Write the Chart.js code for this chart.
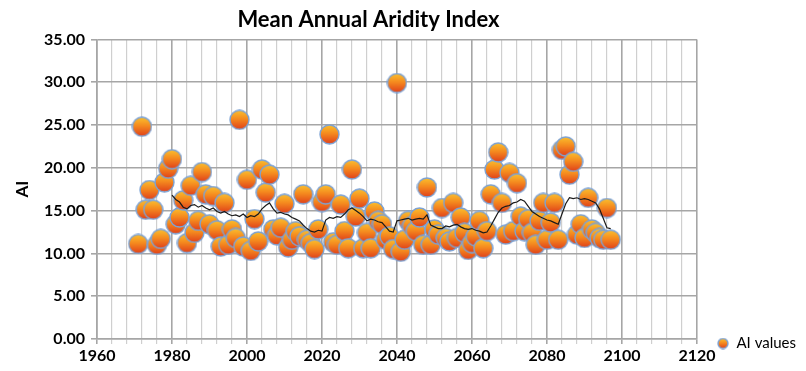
<!DOCTYPE html>
<html>
<head>
<meta charset="utf-8">
<title>Mean Annual Aridity Index</title>
<script src="https://cdn.jsdelivr.net/npm/chart.js@4.4.1/dist/chart.umd.min.js"></script>
<style>
    html, body { margin: 0; padding: 0; background: #ffffff; }
    #chartBox { width: 806px; height: 371px; }
</style>
</head>
<body>
<div id="chartBox"><canvas id="aiChart" width="806" height="371"></canvas></div>
<script>
const years = [
    1971, 1972, 1973, 1974, 1975, 1976, 1977, 1978, 1979, 1980,
    1981, 1982, 1983, 1984, 1985, 1986, 1987, 1988, 1989, 1990,
    1991, 1992, 1993, 1994, 1995, 1996, 1997, 1998, 1999, 2000,
    2001, 2002, 2003, 2004, 2005, 2006, 2007, 2008, 2009, 2010,
    2011, 2012, 2013, 2014, 2015, 2016, 2017, 2018, 2019, 2020,
    2021, 2022, 2023, 2024, 2025, 2026, 2027, 2028, 2029, 2030,
    2031, 2032, 2033, 2034, 2035, 2036, 2037, 2038, 2039, 2040,
    2041, 2042, 2043, 2044, 2045, 2046, 2047, 2048, 2049, 2050,
    2051, 2052, 2053, 2054, 2055, 2056, 2057, 2058, 2059, 2060,
    2061, 2062, 2063, 2064, 2065, 2066, 2067, 2068, 2069, 2070,
    2071, 2072, 2073, 2074, 2075, 2076, 2077, 2078, 2079, 2080,
    2081, 2082, 2083, 2084, 2085, 2086, 2087, 2088, 2089, 2090,
    2091, 2092, 2093, 2094, 2095, 2096, 2097
];

// yearly AI values (scatter)
const aiValues = [
    11.1, 24.8, 15.1, 17.4, 15.1, 11.0, 11.7, 18.3, 19.9, 21.0,
    13.4, 14.2, 16.2, 11.2, 17.9, 12.4, 13.8, 19.5, 16.9, 13.4,
    16.7, 12.7, 10.8, 15.9, 11.0, 12.8, 11.8, 25.6, 10.8, 18.6,
    10.3, 14.0, 11.4, 19.8, 17.1, 19.2, 12.8, 12.1, 13.0, 15.8,
    10.7, 11.6, 12.6, 12.0, 16.9, 11.6, 11.2, 10.5, 12.8, 16.0,
    16.9, 23.9, 11.3, 11.0, 15.7, 12.6, 10.6, 19.8, 14.3, 16.4,
    10.6, 12.4, 10.6, 14.9, 13.8, 13.4, 11.6, 12.0, 10.5, 29.9,
    10.2, 11.6, 13.8, 13.2, 12.6, 14.2, 11.0, 17.7, 11.0, 12.8,
    12.2, 15.3, 11.8, 11.4, 15.9, 11.8, 14.2, 12.4, 10.4, 11.2,
    12.0, 13.8, 10.6, 12.6, 16.9, 19.8, 21.8, 15.9, 12.2, 19.4,
    12.6, 18.2, 14.3, 12.6, 14.0, 12.4, 11.0, 13.8, 15.9, 11.6,
    13.6, 15.9, 11.6, 22.1, 22.5, 19.2, 20.7, 12.2, 13.4, 11.8,
    16.5, 12.8, 12.4, 11.8, 11.6, 15.3, 11.6
];

// moving average line (starts in 1980)
const movingAvg = [
    null, null, null, null, null, null, null, null, null, 16.8,
    16.3, 16.0, 15.4, 15.2, 15.6, 15.7, 15.4, 15.6, 15.3, 15.1,
    15.3, 14.9, 14.7, 14.9, 14.6, 14.4, 14.5, 14.3, 14.6, 14.2,
    14.4, 14.3, 14.6, 15.2, 15.6, 15.9, 15.2, 14.7, 14.8, 14.6,
    14.5, 14.2, 14.0, 13.8, 13.3, 12.9, 12.6, 12.5, 12.7, 12.6,
    13.9, 14.2, 14.1, 14.3, 14.2, 14.6, 15.1, 15.3, 15.0, 14.7,
    14.3, 13.8, 14.0, 13.9, 13.7, 13.6, 13.1, 12.6, 12.5, 13.8,
    13.9, 14.0, 14.1, 13.9, 14.0, 14.1, 14.0, 14.5, 13.3, 13.1,
    12.9, 12.9, 13.2, 13.1, 13.3, 13.4, 13.1, 12.9, 12.8, 12.9,
    12.7, 12.6, 12.4, 12.5, 13.2, 14.0, 14.8, 15.3, 15.5, 15.6,
    15.9, 16.0, 16.3, 16.1, 15.5, 14.9, 14.6, 14.3, 14.1, 13.9,
    13.8, 13.6, 13.4, 14.6, 15.8, 16.5, 16.4, 16.5, 16.3, 16.4,
    16.3, 16.1, 15.9, 15.2, 14.1, 13.0, 12.9
];

const yTicks = [0, 5, 10, 15, 20, 25, 30, 35];
const xLabelYears = [1960, 1980, 2000, 2020, 2040, 2060, 2080, 2100, 2120];

// glossy orange ball marker, like the Excel one
function makeBall(size) {
    let c = document.createElement('canvas');
    c.width = size;
    c.height = size;
    let ctx = c.getContext('2d');
    let r = size / 2 - 1;
    let g = ctx.createLinearGradient(0, 1, 0, size - 1);
    g.addColorStop(0, '#FBC02D');
    g.addColorStop(0.45, '#F58A1F');
    g.addColorStop(1, '#E0401A');
    ctx.beginPath();
    ctx.arc(size / 2, size / 2, r, 0, Math.PI * 2);
    ctx.fillStyle = g;
    ctx.fill();
    ctx.lineWidth = 1.4;
    ctx.strokeStyle = '#7CA2D4';
    ctx.stroke();
    return c;
}

const bigBall = makeBall(21);
const smallBall = makeBall(12);

// Excel centres the title a bit left of the canvas middle
const shiftTitle = {
    id: 'shiftTitle',
    afterLayout(chart) {
        if (chart.titleBlock) {
            chart.titleBlock.left = 0;
            chart.titleBlock.right = 737;
        }
    }
};

let ctx = document.getElementById('aiChart').getContext('2d');

new Chart(ctx, {
    type: 'scatter',
    data: {
        datasets: [{
            label: 'AI values',
            data: years.map((yr, i) => ({ x: yr, y: aiValues[i] })),
            pointStyle: bigBall,
            pointRadius: 10,
            pointHoverRadius: 10,
            order: 1
        }, {
            label: 'Moving average',
            data: years.map((yr, i) => ({ x: yr, y: movingAvg[i] })),
            showLine: true,
            borderColor: '#1a1a1a',
            borderWidth: 1.2,
            pointRadius: 0,
            spanGaps: false,
            order: 0
        }]
    },
    plugins: [shiftTitle],
    options: {
        responsive: false,
        animation: false,
        layout: { padding: { left: 0, right: 0, top: 0, bottom: 0 } },
        plugins: {
            title: {
                display: true,
                text: 'Mean Annual Aridity Index',
                color: '#000',
                font: { family: 'Lato', size: 22, weight: 'bold' },
                padding: { top: 7, bottom: 6 }
            },
            legend: {
                position: 'right',
                align: 'end',
                labels: {
                    color: '#000',
                    font: { family: 'Lato', size: 15 },
                    usePointStyle: true,
                    boxWidth: 12,
                    padding: 20,
                    generateLabels: function(chart) {
                        return [{
                            text: 'AI values',
                            pointStyle: smallBall,
                            fontColor: '#000',
                            hidden: false,
                            datasetIndex: 0,
                            lineWidth: 0
                        }];
                    }
                }
            },
            tooltip: { enabled: false }
        },
        scales: {
            x: {
                type: 'linear',
                min: 1960,
                max: 2120,
                afterFit: function(scale) { scale.height = 32; },
                ticks: {
                    stepSize: 4,
                    autoSkip: false,
                    maxRotation: 0,
                    color: '#000',
                    font: { family: 'Lato', size: 16, weight: 'bold' },
                    padding: 2,
                    callback: function(v) {
                        return xLabelYears.includes(v) ? String(v) : '';
                    }
                },
                grid: {
                    color: function(c) {
                        return xLabelYears.includes(c.tick && c.tick.value) ? '#A6A6A6' : '#CFCFCF';
                    },
                    lineWidth: function(c) {
                        return xLabelYears.includes(c.tick && c.tick.value) ? 1.6 : 1.2;
                    },
                    tickLength: 5
                },
                border: { color: '#A6A6A6', width: 1.6 }
            },
            y: {
                min: 0,
                max: 35,
                afterFit: function(scale) { scale.width = 97; },
                afterBuildTicks: function(scale) {
                    scale.ticks = yTicks.map(v => ({ value: v }));
                },
                ticks: {
                    color: '#000',
                    font: { family: 'Lato', size: 16, weight: 'bold' },
                    padding: 6,
                    callback: function(v) { return v.toFixed(2); }
                },
                grid: { color: '#A6A6A6', lineWidth: 1.6, tickLength: 6 },
                border: { color: '#A6A6A6', width: 1.6 },
                title: {
                    display: true,
                    text: 'AI',
                    color: '#000',
                    font: { family: 'Lato', size: 17, weight: 'bold' },
                    padding: { top: 12, bottom: 0 }
                }
            }
        }
    }
});
</script>
</body>
</html>
